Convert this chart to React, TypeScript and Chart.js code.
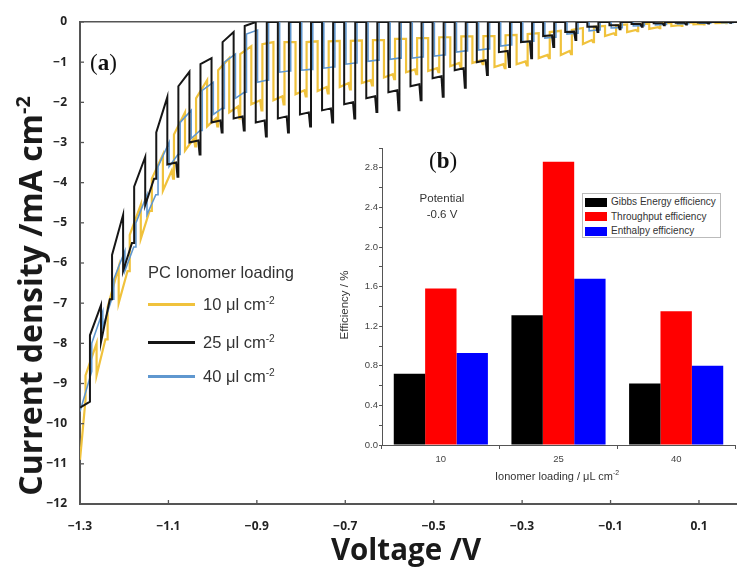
import React, { useEffect, useRef } from 'react';
import { Chart, registerables } from 'chart.js';
Chart.register(...registerables);

// ---------- main panel (a) ----------
const xTicks = [-1.3, -1.1, -0.9, -0.7, -0.5, -0.3, -0.1, 0.1];
const vMin = -1.3;
const vMax = 0.186;
const jMin = -12;
const jMax = 0;

// light-on voltages of the chopped scan (25 µl trace)
const chopOn = [
  -1.2525, -1.2025, -1.1525, -1.1025, -1.0525, -1.0025, -0.9525, -0.9025, -0.8525, -0.8025,
  -0.7525, -0.7025, -0.6525, -0.6025, -0.5525, -0.5025, -0.4525, -0.4025, -0.3525, -0.3025,
  -0.2525, -0.2025, -0.1525, -0.1025, -0.0525, -0.0025, 0.0475, 0.0975, 0.1475,
];
const chopLength = 0.025;
const yellowDelay = -0.01;
const blueDelay = 0.004;

// 25 µl cm-2 (black)
const blackStart = [[-1.3, -9.6], [-1.2775, -9.45], [-1.2775, -7.8]];
const blackDarkEnd = [-7.05, -4.8, -3.36, -1.87, -1.24, -0.9, -0.25, 0, 0, 0,
  0, 0, 0, 0, 0, 0, 0, 0, 0, 0, 0, 0, 0, 0, 0, 0, 0, 0, 0];
const blackLightStart = [-7.97, -6.2, -4.56, -3.55, -3.0, -2.5, -2.4, -2.5, -2.4, -2.3,
  -2.2, -2.05, -1.9, -1.75, -1.6, -1.4, -1.2, -1.0, -0.75, -0.5,
  -0.35, -0.25, -0.12, -0.08, -0.05, -0.03, -0.02, -0.01, 0];
const blackLightEnd = [-6.9, -5.5, -3.9, -3.5, -2.95, -2.45, -2.35, -2.45, -2.35, -2.25,
  -2.15, -2.0, -1.85, -1.7, -1.55, -1.35, -1.15, -0.95, -0.72, -0.48,
  -0.33, -0.24, -0.11, -0.08, -0.05, -0.03, -0.02, -0.01, 0];
const blackHook = [-6.9, -5.5, -3.9, -3.85, -3.3, -2.75, -2.7, -2.85, -2.75, -2.6,
  -2.5, -2.4, -2.24, -2.2, -1.95, -1.86, -1.64, -1.32, -1.12, -0.9,
  -0.62, -0.45, -0.25, -0.18, -0.12, -0.08, -0.06, -0.04, -0.02];
const blackDarkStart = [-5.8, -4.1, -2.75, -1.6, -1.05, -0.5, -0.1, 0, 0, 0,
  0, 0, 0, 0, 0, 0, 0, 0, 0, 0, 0, 0, 0, 0, 0, 0, 0, 0, 0];

// 10 µl cm-2 (yellow)
const yellowStart = [[-1.3, -10.9], [-1.2875, -9.4], [-1.2875, -8.8]];
const yellowDarkEnd = [-8.0, -6.1, -4.55, -3.3, -2.25, -1.45, -0.9, -0.6, -0.5, -0.5,
  -0.48, -0.47, -0.46, -0.45, -0.42, -0.4, -0.38, -0.36, -0.35, -0.32,
  -0.28, -0.22, -0.15, -0.1, -0.06, -0.04, -0.02, -0.01, 0];
const yellowLightStart = [-8.8, -7.0, -5.4, -4.2, -3.2, -2.6, -2.25, -2.05, -1.95, -1.8,
  -1.72, -1.62, -1.52, -1.38, -1.25, -1.22, -1.1, -1.02, -1.12, -1.05,
  -0.9, -0.82, -0.55, -0.35, -0.25, -0.17, -0.1, -0.06, -0.03];
const yellowLightEnd = [-7.9, -6.2, -4.7, -3.7, -2.9, -2.4, -2.1, -1.95, -1.85, -1.7,
  -1.62, -1.52, -1.45, -1.3, -1.18, -1.15, -1.02, -0.95, -1.05, -0.98,
  -0.82, -0.72, -0.45, -0.28, -0.2, -0.13, -0.08, -0.05, -0.02];
const yellowHook = [-7.9, -6.2, -4.7, -3.9, -3.1, -2.6, -2.4, -2.2, -2.05, -1.85,
  -1.78, -1.68, -1.58, -1.42, -1.3, -1.25, -1.12, -1.05, -1.15, -1.08,
  -0.9, -0.8, -0.5, -0.32, -0.23, -0.15, -0.1, -0.06, -0.03];
const yellowDarkStart = [-7.1, -5.3, -3.9, -2.8, -1.9, -1.2, -0.8, -0.55, -0.5, -0.5,
  -0.48, -0.47, -0.45, -0.42, -0.4, -0.38, -0.36, -0.35, -0.33, -0.3,
  -0.25, -0.2, -0.12, -0.08, -0.05, -0.03, -0.02, -0.01, 0];

// 40 µl cm-2 (blue)
const blueStart = [[-1.3, -9.7], [-1.2735, -8.7], [-1.2735, -8.0]];
const blueDarkEnd = [-7.2, -5.7, -4.3, -3.0, -2.2, -1.5, -0.8, -0.2, 0, 0,
  0, 0, 0, 0, 0, 0, 0, 0, 0, 0, 0, 0, 0, 0, 0, 0, 0, 0, 0];
const blueLightStart = [-7.6, -6.2, -4.8, -3.6, -2.9, -2.3, -1.9, -1.5, -1.25, -1.2,
  -1.15, -1.05, -0.98, -0.93, -0.9, -0.85, -0.75, -0.7, -0.6, -0.5,
  -0.4, -0.3, -0.22, -0.15, -0.1, -0.07, -0.05, -0.03, -0.02];
const blueLightEnd = [-6.9, -5.6, -4.3, -3.3, -2.7, -2.15, -1.75, -1.45, -1.22, -1.18,
  -1.12, -1.02, -0.95, -0.9, -0.87, -0.82, -0.72, -0.67, -0.57, -0.48,
  -0.38, -0.28, -0.2, -0.14, -0.09, -0.06, -0.04, -0.03, -0.02];
const blueDarkStart = [-6.4, -5.0, -3.6, -2.5, -1.7, -1.0, -0.3, 0, 0, 0,
  0, 0, 0, 0, 0, 0, 0, 0, 0, 0, 0, 0, 0, 0, 0, 0, 0, 0, 0];

// ---------- inset (b) ----------
const loadings = ['10', '25', '40'];
const gibbs = [0.72, 1.31, 0.62];
const throughput = [1.58, 2.86, 1.35];
const enthalpy = [0.93, 1.68, 0.8];

type P = { x: number; y: number };
function buildTrace(start: number[][], delay: number, darkEnd: number[], lightStart: number[],
  lightEnd: number[], hook: number[], darkStart: number[]): P[] {
  const pts: P[] = start.map(([x, y]) => ({ x, y }));
  chopOn.forEach((v0, i) => {
    const on = v0 + delay;
    const off = on + chopLength;
    pts.push({ x: on, y: darkEnd[i] });
    pts.push({ x: on, y: lightStart[i] });
    pts.push({ x: off - 0.005, y: lightEnd[i] });
    pts.push({ x: off - 0.002, y: hook[i] });
    pts.push({ x: off, y: hook[i] });
    pts.push({ x: off, y: darkStart[i] });
  });
  pts.push({ x: vMax, y: darkStart[darkStart.length - 1] });
  return pts;
}

const AXIS = '#555';
const innerTicks = {
  id: 'innerTicks',
  afterDatasetsDraw(chart: any) {
    const { ctx, chartArea, scales } = chart;
    ctx.save();
    ctx.strokeStyle = AXIS;
    ctx.lineWidth = 1.3;
    scales.x.ticks.forEach((t: any) => {
      const px = scales.x.getPixelForValue(t.value);
      ctx.beginPath();
      ctx.moveTo(px, chartArea.bottom);
      ctx.lineTo(px, chartArea.bottom - 4);
      ctx.stroke();
    });
    scales.y.ticks.forEach((t: any) => {
      const py = scales.y.getPixelForValue(t.value);
      ctx.beginPath();
      ctx.moveTo(chartArea.left, py);
      ctx.lineTo(chartArea.left + 4, py);
      ctx.stroke();
    });
    ctx.restore();
  },
};

const SANS = "'Liberation Sans', Arial, sans-serif";
const OPEN = "'Open Sans', 'DejaVu Sans', sans-serif";
const SERIF = "'Liberation Serif', 'DejaVu Serif', serif";
const YELLOW = '#f0c23c';
const BLUE = '#5f97cf';
const BLACK = '#161616';

const sup = (s: string) => (
  <sup style={{ fontSize: '0.62em', lineHeight: 0, verticalAlign: 'super' }}>{s}</sup>
);

export default function App() {
  const mainRef = useRef<HTMLCanvasElement>(null);
  const insetRef = useRef<HTMLCanvasElement>(null);

  useEffect(() => {
    const black = buildTrace(blackStart, 0, blackDarkEnd, blackLightStart, blackLightEnd, blackHook, blackDarkStart);
    const yellow = buildTrace(yellowStart, yellowDelay, yellowDarkEnd, yellowLightStart, yellowLightEnd, yellowHook, yellowDarkStart);
    const blue = buildTrace(blueStart, blueDelay, blueDarkEnd, blueLightStart, blueLightEnd, blueLightEnd, blueDarkStart);

    const main = new Chart(mainRef.current!, {
      type: 'line',
      data: {
        datasets: [
          { label: '25 µl cm-2', data: black, borderColor: BLACK, borderWidth: 2, pointRadius: 0, order: 0 },
          { label: '40 µl cm-2', data: blue, borderColor: BLUE, borderWidth: 1.6, pointRadius: 0, order: 1 },
          { label: '10 µl cm-2', data: yellow, borderColor: YELLOW, borderWidth: 2.2, pointRadius: 0, order: 2 },
        ],
      },
      options: {
        animation: false,
        responsive: false,
        layout: { padding: { top: 22, right: 0, left: 0, bottom: 0 } },
        plugins: { legend: { display: false }, tooltip: { enabled: false } },
        elements: { line: { tension: 0 } },
        scales: {
          x: {
            type: 'linear',
            min: vMin,
            max: vMax,
            afterBuildTicks: (s: any) => { s.ticks = xTicks.map((v) => ({ value: v })); },
            afterFit: (s: any) => { s.height = 65; },
            grid: { display: true, drawOnChartArea: false, drawTicks: false },
            border: { display: true, color: AXIS, width: 2 },
            ticks: {
              padding: 15,
              color: '#222',
              font: { family: OPEN, weight: 'bold', size: 12 },
              callback: (v: any) => (v < 0 ? '\u2212' + Math.abs(v).toFixed(1) : Number(v).toFixed(1)),
            },
          },
          y: {
            type: 'linear',
            min: jMin,
            max: jMax,
            afterFit: (s: any) => { s.width = 80; },
            grid: {
              display: true,
              drawTicks: false,
              drawOnChartArea: true,
              lineWidth: 1.5,
              color: (c: any) => (c.tick && c.tick.value === 0 ? AXIS : 'rgba(0,0,0,0)'),
            },
            border: { display: true, color: AXIS, width: 2 },
            ticks: {
              stepSize: 1,
              padding: 13,
              color: '#222',
              font: { family: OPEN, weight: 'bold', size: 12 },
              callback: (v: any) => (v < 0 ? '\u2212' + Math.abs(v) : String(v)),
            },
          },
        },
      },
      plugins: [innerTicks],
    } as any);

    const inset = new Chart(insetRef.current!, {
      type: 'bar',
      data: {
        labels: loadings,
        datasets: [
          { label: 'Gibbs Energy efficiency', data: gibbs, backgroundColor: '#000000' },
          { label: 'Throughput efficiency', data: throughput, backgroundColor: '#ff0000' },
          { label: 'Enthalpy efficiency', data: enthalpy, backgroundColor: '#0000ff' },
        ],
      },
      options: {
        animation: false,
        responsive: false,
        datasets: { bar: { categoryPercentage: 0.8, barPercentage: 1.0 } },
        layout: { padding: { top: 8, right: 2, left: 0, bottom: 0 } },
        plugins: { legend: { display: false }, tooltip: { enabled: false } },
        scales: {
          x: {
            afterFit: (s: any) => { s.height = 45; },
            grid: { display: true, drawOnChartArea: false, drawTicks: true, tickLength: 4, color: AXIS },
            border: { display: true, color: AXIS, width: 1 },
            ticks: { padding: 5, color: '#444', font: { family: SANS, size: 9.5 } },
          },
          y: {
            min: 0,
            max: 3.0,
            afterFit: (s: any) => { s.width = 52; },
            grid: { display: true, drawOnChartArea: false, drawTicks: true, tickLength: 3, color: AXIS },
            border: { display: true, color: AXIS, width: 1 },
            ticks: {
              stepSize: 0.2,
              padding: 1,
              color: '#444',
              font: { family: SANS, size: 9.5 },
              callback: (v: any, i: number) => (i % 2 === 0 ? Number(v).toFixed(1) : ''),
            },
          },
        },
      },
    } as any);

    return () => { main.destroy(); inset.destroy(); };
  }, []);

  const legendRows = [
    { label: '10 \u03bcl cm', color: YELLOW, y: 304 },
    { label: '25 \u03bcl cm', color: BLACK, y: 342 },
    { label: '40 \u03bcl cm', color: BLUE, y: 376 },
  ];
  const insetRows = [
    { label: 'Gibbs Energy efficiency', color: '#000000' },
    { label: 'Throughput efficiency', color: '#ff0000' },
    { label: 'Enthalpy efficiency', color: '#0000ff' },
  ];

  return (
    <div style={{ position: 'absolute', left: 0, top: 0, width: 737, height: 569, overflow: 'hidden', background: '#fff' }}>
      <canvas ref={mainRef} width={737} height={569} style={{ position: 'absolute', left: 0, top: 0, width: 737, height: 569 }} />
      <canvas ref={insetRef} width={407} height={350} style={{ position: 'absolute', left: 330, top: 140, width: 407, height: 350 }} />

      {/* axis titles */}
      <div style={{ position: 'absolute', left: 30 - 260, top: 296 - 20, width: 520, height: 40, lineHeight: '40px', textAlign: 'center', transform: 'rotate(-90deg)', fontFamily: OPEN, fontWeight: 700, fontSize: 32, color: '#1a1a1a', whiteSpace: 'nowrap' }}>
        Current density /mA cm{sup('-2')}
      </div>
      <div style={{ position: 'absolute', left: 206, top: 532, width: 400, height: 34, lineHeight: '34px', textAlign: 'center', fontFamily: OPEN, fontWeight: 700, fontSize: 29.5, color: '#1a1a1a', whiteSpace: 'nowrap' }}>
        Voltage /V
      </div>

      {/* panel labels */}
      <div style={{ position: 'absolute', left: 90, top: 50, lineHeight: '26px', fontFamily: SERIF, fontSize: 23, color: '#111' }}>
        (<b>a</b>)
      </div>
      <div style={{ position: 'absolute', left: 429, top: 148, lineHeight: '26px', fontFamily: SERIF, fontSize: 23, color: '#111' }}>
        (<b>b</b>)
      </div>

      {/* main legend */}
      <div style={{ position: 'absolute', left: 148, top: 262, lineHeight: '20px', fontFamily: SANS, fontSize: 16.5, color: '#333', whiteSpace: 'nowrap' }}>
        PC Ionomer loading
      </div>
      {legendRows.map((r) => (
        <React.Fragment key={r.label}>
          <div style={{ position: 'absolute', left: 148, top: r.y - 1.5, width: 47, height: 3, background: r.color }} />
          <div style={{ position: 'absolute', left: 203, top: r.y - 11, lineHeight: '22px', fontFamily: SANS, fontSize: 16.5, color: '#333', whiteSpace: 'nowrap' }}>
            {r.label}{sup('-2')}
          </div>
        </React.Fragment>
      ))}

      {/* inset annotations */}
      <div style={{ position: 'absolute', left: 392, top: 190, width: 100, textAlign: 'center', lineHeight: '16px', fontFamily: SANS, fontSize: 11.5, color: '#333' }}>
        Potential<br />-0.6 V
      </div>
      <div style={{ position: 'absolute', left: 582, top: 193, width: 139, height: 45, border: '1px solid #bbb', boxSizing: 'border-box', background: '#fff' }}>
        {insetRows.map((r, i) => (
          <div key={r.label} style={{ position: 'absolute', left: 2, top: 3 + i * 14.5, height: 10, display: 'flex', alignItems: 'center', whiteSpace: 'nowrap' }}>
            <div style={{ width: 22, height: 9, background: r.color, marginRight: 4 }} />
            <span style={{ fontFamily: SANS, fontSize: 10, color: '#333', lineHeight: '10px' }}>{r.label}</span>
          </div>
        ))}
      </div>
      <div style={{ position: 'absolute', left: 344 - 80, top: 305 - 8, width: 160, height: 16, lineHeight: '16px', textAlign: 'center', transform: 'rotate(-90deg)', fontFamily: SANS, fontSize: 11.5, color: '#333', whiteSpace: 'nowrap' }}>
        Efficiency / %
      </div>
      <div style={{ position: 'absolute', left: 557 - 100, top: 468, width: 200, textAlign: 'center', lineHeight: '16px', fontFamily: SANS, fontSize: 11, color: '#333', whiteSpace: 'nowrap' }}>
        Ionomer loading / {'\u03bc'}L cm{sup('-2')}
      </div>
    </div>
  );
}
